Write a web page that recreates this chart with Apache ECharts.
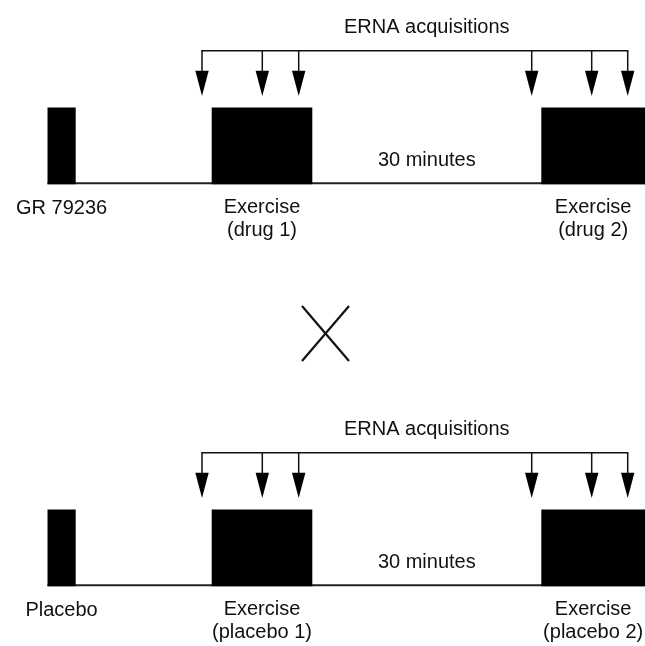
<!DOCTYPE html>
<html>
<head>
<meta charset="utf-8">
<script src="https://cdn.jsdelivr.net/npm/echarts@6/dist/echarts.min.js"></script>
<style>
  html, body { margin: 0; padding: 0; background: #fff; }
  #main { width: 645px; height: 646px; }
</style>
</head>
<body>
<div id="main"></div>
<script>
  // protocol timeline, in timeline units along the x axis
  const rowNames = ['GR 79236', 'Placebo'];
  const doseSpan = [47.5, 75.7];
  const exerciseSpans = [[211.7, 312.3], [541.3, 645]];
  const acquisitionTimes = [202, 262.3, 298.7, 531.7, 591.7, 627.7];
  const exerciseLabels = [
    ['Exercise\n(drug 1)', 'Exercise\n(drug 2)'],
    ['Exercise\n(placebo 1)', 'Exercise\n(placebo 2)']
  ];
  const acquisitionTitle = 'ERNA acquisitions';
  const gapLabel = '30 minutes';

  // vertical layout of one row (panel), y axis runs downwards
  const ROW_OFFSET = [0, 402];
  const TITLE_Y = 27.5;
  const BRACKET_Y = 50.7;
  const HEAD_TOP = 70.7;
  const HEAD_TIP = 96;
  const HEAD_HALF = 6.7;
  const BLOCK_TOP = 107.4;
  const BASE_Y = 183.3;
  const GAP_LABEL_Y = 160;
  const NAME_Y = 208;
  const EXERCISE_LABEL_Y = 219;

  const FONT = '"Liberation Sans", Arial, sans-serif';
  const INK = '#000';

  let myChart = echarts.init(document.getElementById('main'));

  // data built from the arrays above
  let blockData = [];
  let baseData = [];
  let arrowData = [];
  let bracketData = [];
  let textData = [];
  rowNames.forEach((name, r) => {
    blockData.push([doseSpan[0], doseSpan[1], r]);
    exerciseSpans.forEach(s => blockData.push([s[0], s[1], r]));
    baseData.push([doseSpan[0], exerciseSpans[exerciseSpans.length - 1][1], r]);
    acquisitionTimes.forEach(t => arrowData.push([t, r]));
    bracketData.push([Math.min(...acquisitionTimes), Math.max(...acquisitionTimes), r]);
    const gapMid = (exerciseSpans[0][1] + exerciseSpans[1][0]) / 2;
    textData.push([gapMid, ROW_OFFSET[r] + TITLE_Y, acquisitionTitle]);
    textData.push([gapMid, ROW_OFFSET[r] + GAP_LABEL_Y, gapLabel]);
    textData.push([(doseSpan[0] + doseSpan[1]) / 2, ROW_OFFSET[r] + NAME_Y, name]);
    exerciseSpans.forEach((s, i) => {
      textData.push([(s[0] + s[1]) / 2, ROW_OFFSET[r] + EXERCISE_LABEL_Y, exerciseLabels[r][i]]);
    });
  });
  // crossover mark between the two panels
  const crossData = [[325.5, 333.5]];

  let option = {
    animation: false,
    grid: { left: 0, right: 0, top: 0, bottom: 0 },
    xAxis: { type: 'value', min: 0, max: 645, show: false },
    yAxis: { type: 'value', min: 0, max: 646, inverse: true, show: false },
    series: [
      {
        // baseline of each timeline
        type: 'custom',
        data: baseData,
        renderItem: function (params, api) {
          const r = api.value(2);
          const a = api.coord([api.value(0), ROW_OFFSET[r] + BASE_Y]);
          const b = api.coord([api.value(1), ROW_OFFSET[r] + BASE_Y]);
          return {
            type: 'line',
            shape: { x1: a[0], y1: a[1], x2: b[0], y2: b[1] },
            style: { stroke: '#222', lineWidth: 2 }
          };
        }
      },
      {
        // drug / placebo dose and exercise blocks
        type: 'custom',
        data: blockData,
        renderItem: function (params, api) {
          const r = api.value(2);
          const p0 = api.coord([api.value(0), ROW_OFFSET[r] + BLOCK_TOP]);
          const p1 = api.coord([api.value(1), ROW_OFFSET[r] + BASE_Y + 1]);
          return {
            type: 'rect',
            shape: { x: p0[0], y: p0[1], width: p1[0] - p0[0], height: p1[1] - p0[1] },
            style: { fill: INK }
          };
        }
      },
      {
        // bracket joining the acquisition arrows
        type: 'custom',
        data: bracketData,
        renderItem: function (params, api) {
          const r = api.value(2);
          const a = api.coord([api.value(0), ROW_OFFSET[r] + BRACKET_Y]);
          const b = api.coord([api.value(1), ROW_OFFSET[r] + BRACKET_Y]);
          return {
            type: 'line',
            shape: { x1: a[0] - 0.75, y1: a[1], x2: b[0] + 0.75, y2: b[1] },
            style: { stroke: '#111', lineWidth: 1.5 }
          };
        }
      },
      {
        // ERNA acquisition arrows
        type: 'custom',
        data: arrowData,
        renderItem: function (params, api) {
          const r = api.value(1);
          const top = api.coord([api.value(0), ROW_OFFSET[r] + BRACKET_Y]);
          const head = api.coord([api.value(0), ROW_OFFSET[r] + HEAD_TOP]);
          const tip = api.coord([api.value(0), ROW_OFFSET[r] + HEAD_TIP]);
          return {
            type: 'group',
            children: [
              {
                type: 'line',
                shape: { x1: top[0], y1: top[1], x2: head[0], y2: head[1] + 1 },
                style: { stroke: '#111', lineWidth: 1.5 }
              },
              {
                type: 'polygon',
                shape: { points: [[head[0] - HEAD_HALF, head[1]], [head[0] + HEAD_HALF, head[1]], [tip[0], tip[1]]] },
                style: { fill: INK }
              }
            ]
          };
        }
      },
      {
        // all text labels
        type: 'custom',
        data: textData,
        renderItem: function (params, api) {
          const p = api.coord([api.value(0), api.value(1)]);
          return {
            type: 'text',
            x: p[0],
            y: p[1],
            style: {
              text: textData[params.dataIndex][2],
              align: 'center',
              verticalAlign: 'middle',
              font: '20px ' + FONT,
              lineHeight: 22.5,
              fill: '#111'
            }
          };
        }
      },
      {
        // crossover mark
        type: 'custom',
        data: crossData,
        renderItem: function (params, api) {
          const a = api.coord([api.value(0) - 23.5, api.value(1) - 27.5]);
          const b = api.coord([api.value(0) + 23.5, api.value(1) + 27.5]);
          const st = { stroke: '#111', lineWidth: 2.2 };
          return {
            type: 'group',
            children: [
              { type: 'line', shape: { x1: a[0], y1: a[1], x2: b[0], y2: b[1] }, style: st },
              { type: 'line', shape: { x1: b[0], y1: a[1], x2: a[0], y2: b[1] }, style: st }
            ]
          };
        }
      }
    ]
  };

  myChart.setOption(option);
</script>
</body>
</html>
